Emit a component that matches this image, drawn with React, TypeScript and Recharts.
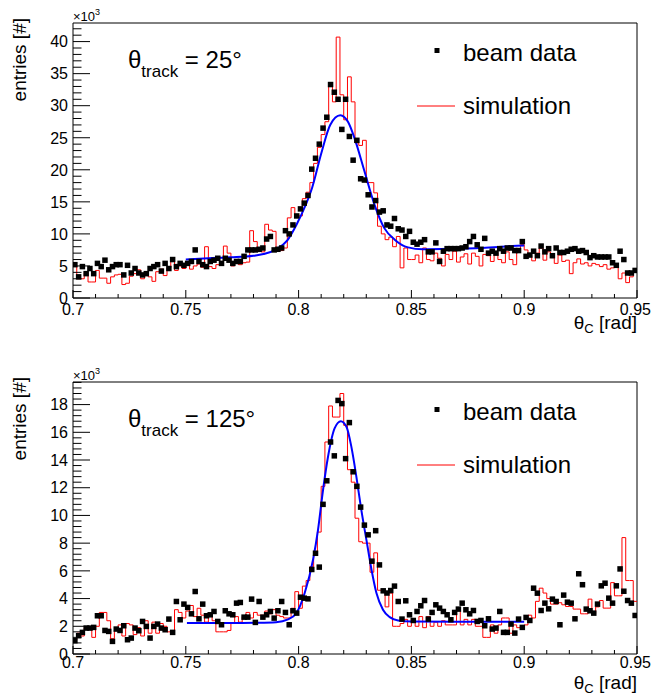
import { ComposedChart, Line, ReferenceLine, Scatter, XAxis, YAxis } from "recharts";

// binning of both histograms: 150 bins over 0.7 .. 0.95 rad
const BIN_LO = 0.7;
const BIN_HI = 0.95;
const N_BINS = 150;
const BIN_W = (BIN_HI - BIN_LO) / N_BINS;

const xTickLabels = ["0.7", "0.75", "0.8", "0.85", "0.9", "0.95"];
const xTicks = Array.from({ length: 26 }, (_, i) => (70 + i) / 100);

const topYLabels = ["0", "5", "10", "15", "20", "25", "30", "35", "40"];
const topYTicks = Array.from({ length: 43 }, (_, i) => i);
const bottomYLabels = ["0", "2", "4", "6", "8", "10", "12", "14", "16", "18"];
const bottomYTicks = Array.from({ length: 50 }, (_, i) => (i * 4) / 10);

// theta_track = 25 deg, entries x10^3
const beamTop = [
  5.2, 3.3, 4.9, 3.8, 4.6, 3.8, 5.4, 4.9, 5.9, 4.4,
  4.9, 5.2, 5.2, 3.6, 5.1, 3.9, 4.6, 3.9, 3.6, 3.8,
  4.6, 4.9, 5.2, 4.2, 5.4, 4.6, 6.0, 4.9, 5.4, 5.1,
  5.4, 5.7, 7.5, 5.7, 5.2, 4.9, 5.7, 5.9, 6.2, 5.4,
  6.2, 5.9, 5.4, 5.7, 5.7, 6.5, 7.5, 7.5, 7.5, 7.6,
  7.8, 9.2, 9.6, 7.5, 7.6, 7.8, 10.5, 10.0, 11.4, 12.8,
  13.9, 14.8, 16.0, 20.1, 21.8, 24.0, 26.5, 28.2, 33.3, 32.1,
  31.0, 26.3, 31.0, 25.2, 21.5, 24.6, 18.6, 18.4, 16.1, 14.2,
  15.2, 13.4, 13.6, 11.4, 11.2, 12.4, 10.8, 10.6, 9.6, 10.4,
  8.7, 8.4, 8.7, 9.1, 7.2, 7.2, 8.6, 5.7, 7.3, 7.7,
  7.7, 7.7, 7.7, 7.8, 8.0, 8.8, 9.6, 8.3, 7.6, 9.3,
  7.0, 7.3, 7.0, 7.7, 7.3, 7.8, 7.8, 7.4, 7.4, 8.8,
  6.5, 6.7, 7.3, 6.6, 8.1, 7.2, 7.7, 6.6, 7.8, 7.1,
  7.1, 7.3, 7.6, 7.7, 7.3, 7.4, 7.1, 6.3, 6.6, 6.4,
  6.4, 6.4, 6.4, 5.5, 5.1, 7.3, 6.0, 3.9, 3.9, 4.3,
];

const simTop = [
  5.0, 3.0, 3.0, 4.0, 2.5, 2.5, 4.3, 3.1, 3.1, 2.3,
  3.3, 3.6, 3.7, 2.1, 2.3, 3.4, 3.8, 4.4, 3.0, 3.6,
  3.3, 2.6, 4.1, 4.5, 3.5, 4.7, 5.9, 4.3, 5.0, 4.6,
  5.5, 4.5, 5.0, 5.3, 4.8, 8.0, 4.9, 4.6, 5.2, 5.6,
  8.1, 7.0, 5.0, 5.8, 5.2, 5.5, 5.6, 10.5, 8.8, 7.6,
  7.2, 11.5, 10.6, 10.4, 7.6, 7.4, 7.8, 12.5, 14.1, 13.0,
  12.8, 15.5, 16.5, 18.0, 21.0, 23.5, 25.5, 27.5, 33.5, 30.6,
  40.7, 31.7, 27.8, 34.5, 30.6, 24.2, 23.8, 24.6, 18.0, 18.0,
  16.4, 11.2, 10.0, 9.1, 9.5, 8.0, 9.6, 4.7, 7.8, 6.0,
  6.0, 6.7, 5.5, 7.8, 6.0, 5.8, 7.0, 6.2, 5.0, 6.8,
  6.0, 7.3, 5.6, 6.4, 6.9, 5.3, 7.0, 6.5, 5.0, 6.8,
  6.6, 5.7, 7.1, 6.0, 5.5, 7.2, 6.0, 5.2, 7.6, 8.3,
  7.5, 6.6, 5.8, 7.0, 7.8, 5.9, 7.2, 6.3, 5.4, 6.7,
  5.7, 5.9, 3.8, 5.5, 6.1, 5.3, 5.5, 5.0, 5.4, 5.2,
  4.9, 5.2, 4.5, 4.7, 4.8, 3.0, 3.9, 2.4, 3.3, 4.2,
];

const fitTopX = [
  0.75, 0.76, 0.77, 0.78, 0.785, 0.79, 0.795, 0.799, 0.803, 0.806, 0.81, 0.814, 0.8185,
  0.822, 0.825, 0.829, 0.8337, 0.838, 0.8426, 0.8485, 0.855, 0.87, 0.88, 0.89, 0.9,
];
const fitTopY = [
  6.0, 6.2, 6.35, 6.6, 6.9, 7.6, 9.0, 11.4, 14.4, 17.2, 22.5, 27.0, 28.5,
  27.4, 24.7, 20.0, 14.5, 10.9, 9.1, 7.9, 7.6, 7.7, 7.8, 8.0, 8.2,
];

// theta_track = 125 deg, entries x10^3
const beamBottom = [
  0.96, 1.32, 1.56, 1.87, 1.87, 1.92, 2.76, 2.76, 1.7, 1.63,
  0.91, 1.8, 1.7, 2.04, 1.03, 1.15, 1.87, 1.68, 2.35, 1.99,
  1.15, 1.99, 2.16, 1.87, 1.75, 2.52, 1.56, 3.79, 2.47, 3.6,
  3.36, 2.9, 4.51, 2.54, 3.6, 2.76, 2.83, 3.07, 2.35, 2.11,
  3.12, 2.9, 2.83, 3.67, 3.72, 2.66, 2.66, 3.96, 2.28, 3.79,
  2.66, 2.83, 3.07, 2.59, 3.12, 3.79, 3.0, 2.11, 3.12, 2.95,
  4.1, 4.03, 3.98, 6.1, 7.27, 6.27, 10.8, 12.5, 15.3, 14.3,
  18.3, 18.07, 14.1, 16.7, 13.15, 12.1, 10.6, 9.3, 8.6, 6.7,
  8.9, 6.43, 4.56, 4.4, 4.58, 4.9, 3.79, 2.52, 3.84, 2.83,
  2.42, 3.07, 3.48, 3.86, 2.52, 3.0, 3.55, 3.31, 3.07, 2.83,
  2.47, 3.0, 3.24, 3.67, 3.19, 2.9, 3.14, 2.35, 2.42, 2.04,
  2.54, 1.8, 1.87, 3.07, 1.56, 1.56, 2.16, 1.51, 2.52, 1.92,
  2.64, 2.42, 4.75, 4.39, 3.14, 3.67, 3.26, 3.96, 3.79, 2.11,
  4.25, 3.74, 3.67, 2.54, 5.79, 5.0, 3.24, 3.12, 2.95, 3.6,
  4.92, 5.11, 4.03, 3.67, 4.92, 6.14, 4.53, 3.86, 3.67, 2.78,
];

const simBottom = [
  1.0, 1.5, 1.3, 1.9, 1.9, 1.2, 2.0, 3.0, 3.0, 2.4,
  1.1, 1.7, 2.1, 1.3, 2.2, 2.1, 1.4, 1.9, 1.3, 2.4,
  1.5, 2.3, 1.5, 2.2, 2.0, 1.6, 1.6, 3.2, 3.0, 2.6,
  3.1, 3.5, 2.7, 3.3, 2.8, 2.3, 2.8, 2.4, 1.6, 1.6,
  1.6, 1.7, 2.2, 2.7, 2.3, 2.7, 3.0, 2.6, 3.0, 2.8,
  2.8, 3.1, 2.9, 3.2, 2.8, 2.7, 2.6, 2.6, 3.3, 4.5,
  3.3, 4.9, 5.3, 6.3, 7.4, 8.8, 12.1, 15.3, 17.9, 17.1,
  17.1, 18.8, 16.5, 13.3, 12.4, 9.8, 8.1, 8.0, 8.0, 5.9,
  7.3, 4.6, 4.6, 3.4, 4.4, 2.0, 2.0, 2.2, 2.5, 2.0,
  2.5, 2.0, 2.7, 1.9, 2.7, 2.0, 2.3, 2.0, 2.4, 2.1,
  2.1, 2.1, 3.3, 2.1, 2.5, 2.1, 2.5, 2.0, 2.0, 1.2,
  1.2, 2.1, 1.5, 2.1, 2.6, 2.6, 1.5, 2.1, 1.9, 2.0,
  2.1, 2.8, 2.6, 3.8, 4.75, 4.4, 4.0, 3.6, 3.6, 3.7,
  3.55, 3.43, 3.43, 3.24, 3.24, 2.9, 2.9, 3.96, 2.9, 3.4,
  3.86, 3.31, 3.31, 5.15, 4.2, 4.2, 8.4, 5.3, 5.3, 3.8,
];

const fitBottomX = [
  0.7505, 0.77, 0.7805, 0.79, 0.7953, 0.799, 0.8027, 0.8064, 0.8086, 0.8108, 0.813, 0.816, 0.8187,
  0.8212, 0.8234, 0.8256, 0.8278, 0.8301, 0.8323, 0.8345, 0.8374, 0.8404, 0.8441, 0.85, 0.87, 0.9,
];
const fitBottomY = [
  2.23, 2.23, 2.25, 2.3, 2.5, 2.95, 4.4, 6.8, 8.95, 11.8, 14.2, 16.3, 16.8,
  16.4, 14.95, 12.8, 10.4, 8.2, 6.1, 4.4, 3.2, 2.66, 2.42, 2.35, 2.33, 2.33,
];

const FONT = "'Liberation Sans', Arial, Helvetica, sans-serif";

const Square = (props: any) => (
  <rect x={props.cx - 2.75} y={props.cy - 2.75} width={5.5} height={5.5} fill="#000" />
);

interface PanelProps {
  beam: number[];
  sim: number[];
  fitX: number[];
  fitY: number[];
  yMax: number;
  yTicks: number[];
  yMajorEvery: number;
  yLabels: string[];
  height: number;
  marginTop: number;
  xAxisHeight: number;
  labelDy: number;
}

const Panel = ({
  beam,
  sim,
  fitX,
  fitY,
  yMax,
  yTicks,
  yMajorEvery,
  yLabels,
  height,
  marginTop,
  xAxisHeight,
  labelDy,
}: PanelProps) => {
  const beamPts = beam.map((v, i) => ({ x: BIN_LO + (i + 0.5) * BIN_W, y: v }));
  const simPts = [
    ...sim.map((v, i) => ({ x: BIN_LO + i * BIN_W, y: v })),
    { x: BIN_HI, y: sim[sim.length - 1] },
  ];
  const fitPts = fitX.map((x, i) => ({ x, y: fitY[i] }));

  const xTick = ({ x, y, payload }: any) => {
    const k = Math.round(payload.value * 100) - 70;
    const major = k % 5 === 0;
    const last = k === 25;
    return (
      <g>
        <line x1={x} y1={y} x2={x} y2={y - (major ? 8 : 4)} stroke="#000" />
        {major && (
          <text
            x={last ? 651 : x}
            y={y + labelDy}
            textAnchor={last ? "end" : "middle"}
            fontSize={16}
            fontFamily={FONT}
            fill="#000"
          >
            {xTickLabels[k / 5]}
          </text>
        )}
      </g>
    );
  };

  const yTick = ({ x, y, index }: any) => {
    const major = index % yMajorEvery === 0;
    return (
      <g>
        <line x1={x} y1={y} x2={x + (major ? 17 : 8.5)} y2={y} stroke="#000" />
        {major && (
          <text x={x - 5} y={y} dy="0.36em" textAnchor="end" fontSize={16} fontFamily={FONT} fill="#000">
            {yLabels[index / yMajorEvery]}
          </text>
        )}
      </g>
    );
  };

  return (
    <ComposedChart width={651} height={height} margin={{ top: marginTop, right: 14, bottom: 0, left: 0 }}>
      <XAxis
        type="number"
        dataKey="x"
        domain={[BIN_LO, BIN_HI]}
        allowDataOverflow
        ticks={xTicks}
        interval={0}
        height={xAxisHeight}
        tickSize={0}
        tickMargin={0}
        tickLine={false}
        axisLine={{ stroke: "#000" }}
        tick={xTick}
      />
      <YAxis
        type="number"
        dataKey="y"
        domain={[0, yMax]}
        allowDataOverflow
        ticks={yTicks}
        interval={0}
        width={73}
        tickSize={0}
        tickMargin={0}
        tickLine={false}
        axisLine={{ stroke: "#000" }}
        tick={yTick}
      />
      <ReferenceLine y={yMax} stroke="#000" />
      <ReferenceLine x={BIN_HI} stroke="#000" />
      <Line
        data={simPts}
        dataKey="y"
        type="stepAfter"
        stroke="#ff0000"
        strokeWidth={1}
        dot={false}
        activeDot={false}
        isAnimationActive={false}
      />
      <Scatter data={beamPts} dataKey="y" shape={Square} isAnimationActive={false} />
      <Line
        data={fitPts}
        dataKey="y"
        type="monotone"
        stroke="#0000ff"
        strokeWidth={2}
        dot={false}
        activeDot={false}
        isAnimationActive={false}
      />
    </ComposedChart>
  );
};

const Labels = ({ top, angle }: { top: number; angle: string }) => (
  <g fontFamily={FONT} fill="#000">
    <text x={73} y={top - 2} fontSize={13}>
      ×10<tspan dy={-6} fontSize={9}>3</tspan>
    </text>
    <text transform={`translate(26, ${top - 5}) rotate(-90)`} textAnchor="end" fontSize={19}>
      entries [#]
    </text>
    <text x={128} y={top + 45} fontSize={24}>
      θ<tspan dy={9} fontSize={17}>track</tspan>
      <tspan dy={-9}> = {angle}°</tspan>
    </text>
    <rect x={434.5} y={top + 25} width={5} height={5} fill="#000" />
    <text x={463} y={top + 38} fontSize={24}>
      beam data
    </text>
    <line x1={417} x2={455} y1={top + 83} y2={top + 83} stroke="#ff0000" strokeWidth={1} />
    <text x={463} y={top + 91} fontSize={24}>
      simulation
    </text>
  </g>
);

export default function App() {
  return (
    <div
      style={{
        position: "absolute",
        left: 0,
        top: 0,
        width: 651,
        height: 697,
        background: "#fff",
        overflow: "hidden",
      }}
    >
      <div style={{ position: "absolute", left: 0, top: 0 }}>
        <Panel
          beam={beamTop}
          sim={simTop}
          fitX={fitTopX}
          fitY={fitTopY}
          yMax={42.9}
          yTicks={topYTicks}
          yMajorEvery={5}
          yLabels={topYLabels}
          height={348}
          marginTop={23}
          xAxisHeight={50}
          labelDy={17}
        />
      </div>
      <div style={{ position: "absolute", left: 0, top: 348 }}>
        <Panel
          beam={beamBottom}
          sim={simBottom}
          fitX={fitBottomX}
          fitY={fitBottomY}
          yMax={19.63}
          yTicks={bottomYTicks}
          yMajorEvery={5}
          yLabels={bottomYLabels}
          height={349}
          marginTop={34}
          xAxisHeight={43}
          labelDy={14}
        />
      </div>
      <svg
        width={651}
        height={697}
        style={{ position: "absolute", left: 0, top: 0, pointerEvents: "none" }}
      >
        <Labels top={23} angle="25" />
        <Labels top={382} angle="125" />
        <text x={637} y={329} textAnchor="end" fontSize={19} fontFamily={FONT} fill="#000">
          θ<tspan dy={4} fontSize={13}>C</tspan>
          <tspan dy={-4}> [rad]</tspan>
        </text>
        <text x={637} y={689} textAnchor="end" fontSize={19} fontFamily={FONT} fill="#000">
          θ<tspan dy={4} fontSize={13}>C</tspan>
          <tspan dy={-4}> [rad]</tspan>
        </text>
      </svg>
    </div>
  );
}
